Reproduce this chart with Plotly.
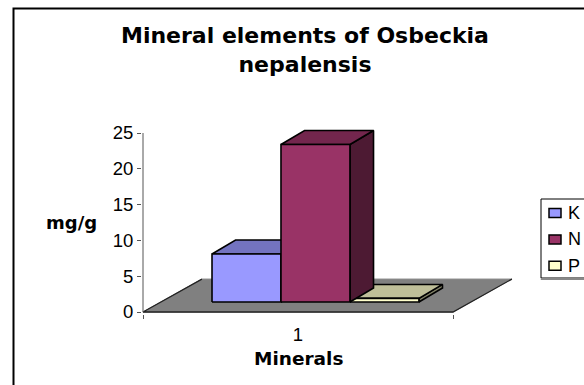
import plotly.graph_objects as go

title = "<b>Mineral elements of Osbeckia<br>nepalensis</b>"
x_title = "Minerals"
y_title = "mg/g"
categories = ["1"]
series_names = ["K", "N", "P"]
series_values = [6.7, 22.0, 0.5]
front_colors = ["#9999FF", "#993366", "#FFFFCC"]
top_colors = ["#7373C0", "#73264D", "#BFBF99"]
side_colors = ["#4D4D80", "#4D1A33", "#808066"]
y_ticks = [0, 5, 10, 15, 20, 25]

FONT = "Liberation Sans, Arial, sans-serif"
HEAD_FONT = "DejaVu Sans, sans-serif"

# Pixel layout of the plotting box
PLOT_L, PLOT_R, PLOT_T, PLOT_B = 142, 515, 129, 314
AXIS_X0, AXIS_Y0 = 143.0, 312.0
PX_PER_X = 310.0    # one category spans this many pixels
PX_PER_Y = 7.16     # pixels per unit of mg/g

# Oblique projection, in axis units: x spans one category, y is the value scale.
x_min, x_max = 0.5, 1.5
floor_dx, floor_dy = 0.19, 4.6       # full depth of the floor
bar_dx, bar_dy = 0.076, 1.95         # depth of each bar
bar_width = 0.2225
bar_start = 0.7226                   # left edge of the first bar
bar_base = 1.4                       # front of the bars sits this far up the floor

fig = go.Figure()


def poly(xs, ys, fill, line_width=1.6, line_color="#000000"):
    fig.add_trace(go.Scatter(
        x=xs, y=ys, mode="lines", fill="toself", fillcolor=fill,
        line=dict(color=line_color, width=line_width),
        hoverinfo="skip", showlegend=False,
    ))


# Floor of the 3D plot area, with its dark front and side edges
poly([x_min, x_max, x_max + floor_dx, x_min + floor_dx, x_min],
     [0, 0, floor_dy, floor_dy, 0], "#808080", 1, "#8A8A8A")
fig.add_trace(go.Scatter(
    x=[x_min + floor_dx, x_min, x_max, x_max + floor_dx],
    y=[floor_dy, 0, 0, floor_dy],
    mode="lines", line=dict(color="#222222", width=1.3),
    hoverinfo="skip", showlegend=False,
))

# Value axis line
fig.add_trace(go.Scatter(
    x=[x_min, x_min], y=[0, y_ticks[-1]], mode="lines",
    line=dict(color="#555555", width=1), hoverinfo="skip", showlegend=False,
))

# Bars: painted so nearer faces cover farther ones
for i in [0, 2, 1]:
    x0 = bar_start + i * bar_width
    x1 = x0 + bar_width
    y0 = bar_base
    y1 = bar_base + series_values[i]
    poly([x1, x1 + bar_dx, x1 + bar_dx, x1, x1],
         [y0, y0 + bar_dy, y1 + bar_dy, y1, y0], side_colors[i])
    poly([x0, x0 + bar_dx, x1 + bar_dx, x1, x0],
         [y1, y1 + bar_dy, y1 + bar_dy, y1, y1], top_colors[i])
    poly([x0, x1, x1, x0, x0], [y0, y0, y1, y1, y0], front_colors[i])


def px_x(px):
    return (px - PLOT_L) / (PLOT_R - PLOT_L)


def px_y(px):
    return (PLOT_B - px) / (PLOT_B - PLOT_T)


def rect(x0, y0, x1, y1, fill="rgba(0,0,0,0)", color="#000000", width=1.0):
    return dict(type="rect", xref="paper", yref="paper",
                x0=px_x(x0), x1=px_x(x1), y0=px_y(y1), y1=px_y(y0),
                line=dict(color=color, width=width), fillcolor=fill, layer="above")


def label(px, py, text, family=FONT, size=16, anchor="center"):
    return dict(xref="paper", yref="paper", x=px_x(px), y=px_y(py), text=text,
                showarrow=False, xanchor=anchor, yanchor="middle", align="center",
                font=dict(family=family, size=size, color="#000000"))


# Chart frame runs off the right and bottom of the page
shapes = [rect(13.5, 8.5, 640, 440, width=2)]
annotations = []

# Legend box and entries
shapes.append(rect(541, 199, 640, 278, fill="#FFFFFF", color="#000000", width=1))
shapes.append(rect(541, 278.5, 640, 279.5, fill="#888888", color="#888888", width=1))
for i, name in enumerate(series_names):
    cy = 213 + i * 26.4
    shapes.append(rect(549, cy - 4.5, 561, cy + 4.5, fill=front_colors[i], width=1.5))
    annotations.append(label(566, cy, name, size=18, anchor="left"))

annotations.append(label(71, 222, f"<b>{y_title}</b>", family=HEAD_FONT, size=18))
annotations.append(label(298.5, 358, f"<b>{x_title}</b>", family=HEAD_FONT, size=18.5))
annotations.append(label(304.5, 50, title, family=HEAD_FONT, size=22))

fig.update_layout(
    width=584, height=385,
    margin=dict(l=PLOT_L, r=584 - PLOT_R, t=PLOT_T, b=385 - PLOT_B, autoexpand=False),
    plot_bgcolor="#FFFFFF", paper_bgcolor="#FFFFFF",
    showlegend=False, shapes=shapes, annotations=annotations,
    font=dict(family=FONT, size=18.5, color="#000000"),
    xaxis=dict(range=[x_min + (PLOT_L - AXIS_X0) / PX_PER_X, x_min + (PLOT_R - AXIS_X0) / PX_PER_X],
               tickmode="array", tickvals=[1.0], ticktext=categories,
               ticks="outside", ticklen=4, tickcolor="rgba(0,0,0,0)", showgrid=False, zeroline=False,
               minor=dict(tickmode="array", tickvals=[x_min, x_max], ticks="outside",
                          ticklen=4, tickcolor="#555555", tickwidth=1, showgrid=False)),
    yaxis=dict(range=[(AXIS_Y0 - PLOT_B) / PX_PER_Y, (AXIS_Y0 - PLOT_T) / PX_PER_Y],
               tickmode="array", tickvals=y_ticks,
               ticks="outside", ticklen=4, tickcolor="#555555", tickwidth=1, showgrid=False, zeroline=False),
)

fig.write_html("out.html")
